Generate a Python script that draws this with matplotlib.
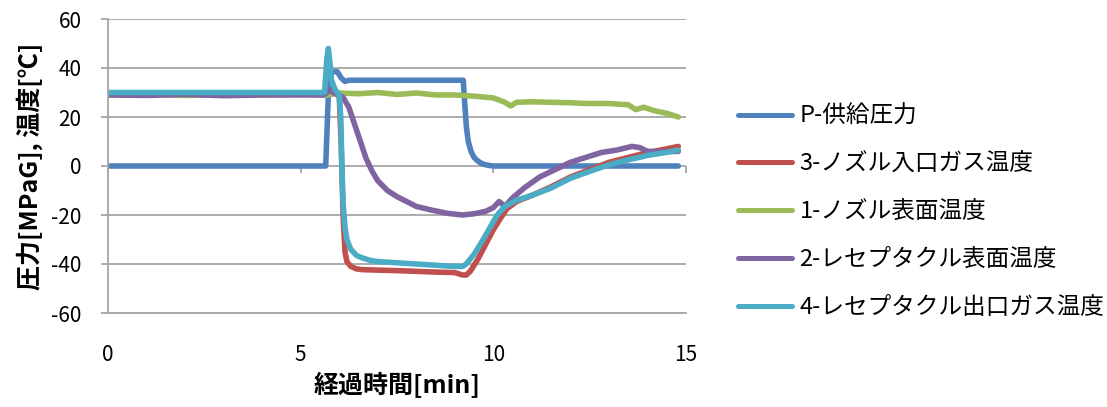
import matplotlib
matplotlib.use("Agg")
import matplotlib.pyplot as plt

plt.rcParams['font.family'] = ['Noto Sans CJK JP', 'DejaVu Sans']
plt.rcParams['axes.unicode_minus'] = False

# ---- data ----
labels = ["P-供給圧力", "3-ノズル入口ガス温度", "1-ノズル表面温度",
          "2-レセプタクル表面温度", "4-レセプタクル出口ガス温度"]
colors = ["#4F81BD", "#C0504D", "#9BBB59", "#8064A2", "#4BACC6"]

t_p = [0, 5.65, 5.72, 5.8, 5.95, 6.05, 6.15, 6.25, 6.4, 7.0, 8.0, 9.0, 9.22,
       9.26, 9.3, 9.35, 9.42, 9.5, 9.6, 9.7, 9.8, 9.9, 10.0, 10.2, 12.0, 14.8]
v_p = [0, 0, 30, 38.5, 38.5, 36, 34.5, 35, 35, 35, 35, 35, 35,
       25, 16, 10, 6, 3.5, 2, 1, 0.5, 0.2, 0, 0, 0, 0]

t_3 = [0, 5.6, 5.75, 5.9, 6.0, 6.05, 6.1, 6.15, 6.2, 6.3, 6.45, 6.6, 7.0, 7.5,
       8.0, 8.5, 9.0, 9.2, 9.3, 9.4, 9.6, 9.8, 10.0, 10.2, 10.35, 10.6, 11.0,
       11.5, 12.0, 12.5, 13.0, 13.5, 14.0, 14.5, 14.8]
v_3 = [29.5, 29.5, 31, 30, 29, 10, -20, -35, -39, -41, -42, -42.3, -42.5, -42.7,
       -43, -43.3, -43.5, -44.5, -44.5, -43, -38, -32, -26, -21, -17.5, -14.5, -12,
       -8.5, -4.5, -1.5, 1.5, 3.5, 5.5, 7, 8]

t_1 = [0, 1, 2, 3, 4, 5, 5.7, 6.0, 6.5, 7.0, 7.5, 8.0, 8.5, 9.0, 9.5, 10.0,
       10.3, 10.45, 10.6, 11.0, 11.5, 12.0, 12.5, 13.0, 13.5, 13.7, 13.9, 14.2,
       14.5, 14.8]
v_1 = [29, 29.3, 28.8, 29.2, 29, 29.3, 29, 29.8, 29.5, 30, 29.2, 29.8, 29, 29,
       28.5, 27.8, 26, 24.5, 26, 26.2, 26, 25.8, 25.5, 25.5, 25, 23, 24, 22.5,
       21.5, 20]

t_2 = [0, 1, 2, 3, 4, 5, 5.6, 5.75, 5.9, 6.1, 6.25, 6.4, 6.55, 6.7, 6.85, 7.0,
       7.25, 7.5, 7.75, 8.0, 8.4, 8.8, 9.2, 9.5, 9.8, 10.0, 10.15, 10.3, 10.5,
       10.8, 11.2, 11.6, 12.0, 12.4, 12.8, 13.2, 13.6, 13.8, 14.0, 14.4, 14.8]
v_2 = [29, 28.8, 29.2, 28.7, 29, 29, 29, 31, 29.5, 28, 24, 17, 10, 3, -2, -6,
       -10, -12.5, -14.5, -16.5, -18, -19.3, -20, -19.5, -18.5, -17, -14.5, -16.5, -13,
       -9, -4.5, -1.5, 1.5, 3.5, 5.5, 6.5, 8, 7.5, 6, 5.8, 6]

t_4 = [0, 5.62, 5.68, 5.72, 5.76, 5.8, 5.9, 6.0, 6.04, 6.07, 6.1, 6.15, 6.2,
       6.3, 6.45, 6.6, 6.8, 7.0, 7.5, 8.0, 8.5, 9.0, 9.2, 9.3, 9.5, 9.7, 9.9,
       10.1, 10.3, 10.6, 11.0, 11.5, 12.0, 12.5, 13.0, 13.5, 14.0, 14.5, 14.8]
v_4 = [30, 30, 44, 48, 42, 35, 31, 29, 20, 0, -15, -25, -30,
       -34, -36.5, -37.5, -38.5, -39, -39.5, -40, -40.5, -41, -41, -40, -36, -31, -25.5,
       -20, -16.5, -14, -12, -9, -5, -2.2, 0.5, 2.5, 4.3, 5.6, 6.5]

series = [(t_p, v_p), (t_3, v_3), (t_1, v_1), (t_2, v_2), (t_4, v_4)]

x_ticks = [0, 5, 10, 15]
y_ticks = [-60, -40, -20, 0, 20, 40, 60]
x_label = "経過時間[min]"
y_label = "圧力[MPaG], 温度[℃]"

# ---- figure ----
fig = plt.figure(figsize=(11.07, 4.07), dpi=100)
ax = fig.add_axes([108/1107, 1 - 313/407, (686 - 108)/1107, (313 - 19)/407])

grid_c = "#A6A6A6"
for (t, v), lab, c in zip(series, labels, colors):
    ax.plot(t, v, color=c, lw=4.0, label=lab, solid_capstyle='round',
            solid_joinstyle='round')

ax.set_xlim(0, 15)
ax.set_ylim(-60, 60)
ax.set_xticks(x_ticks)
ax.set_yticks(y_ticks)
ax.yaxis.grid(True, color=grid_c, lw=1.3)
ax.set_axisbelow(True)

for s in ['top', 'right']:
    ax.spines[s].set_visible(False)
ax.spines['left'].set_color(grid_c)
ax.spines['left'].set_linewidth(1.3)
ax.spines['bottom'].set_color(grid_c)
ax.spines['bottom'].set_linewidth(1.3)

ax.tick_params(axis='x', length=0, pad=22, labelsize=15, colors='black')
ax.tick_params(axis='y', length=5, width=1.3, color=grid_c, pad=14,
               labelsize=15, labelcolor='black')

# horizontal axis crossing at y = 0 with small upward ticks
sec = ax.secondary_xaxis(0.5)
sec.set_xticks(x_ticks)
sec.set_xticklabels([])
sec.tick_params(direction='in', length=5, width=1.3, color=grid_c)
sec.spines['bottom'].set_color(grid_c)
sec.spines['bottom'].set_linewidth(1.3)
for s in ['top', 'left', 'right']:
    sec.spines[s].set_visible(False)

ax.set_xlabel(x_label, fontsize=18, fontweight='bold', labelpad=5)
ax.set_ylabel(y_label, fontsize=18, fontweight='bold', labelpad=6)

leg = fig.legend(loc='center left', bbox_to_anchor=(738/1107, 1 - 212/407),
                 frameon=False, fontsize=17, handlelength=2.3,
                 labelspacing=1.05, handletextpad=0.3, borderpad=0,
                 borderaxespad=0)
for ln in leg.get_lines():
    ln.set_linewidth(3.6)

fig.savefig("out.png", dpi=100)
